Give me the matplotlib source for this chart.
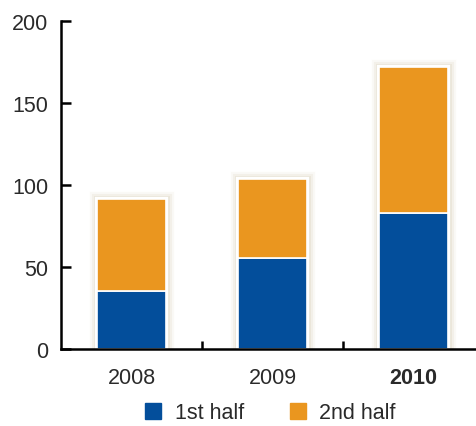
import numpy as np
import matplotlib.pyplot as plt
import matplotlib.patheffects as pe
from matplotlib.lines import Line2D

plt.rcParams['font.family'] = ['Liberation Sans', 'DejaVu Sans']

years = ['2008', '2009', '2010']
first_half = [35.5, 55.5, 83]
second_half = [56, 48, 89]

blue = '#034e9b'
orange = '#ea961f'

fig = plt.figure(figsize=[4.77, 4.27], dpi=100)
ax = fig.add_axes([61/477, 1-350/427, 1-61/477, 328/427])

x = np.arange(len(years))
totals = np.array(first_half) + np.array(second_half)
shadow = [pe.Stroke(linewidth=11, foreground='#d8d0b8', alpha=0.12),
          pe.Stroke(linewidth=8, foreground='#d8d0b8', alpha=0.2),
          pe.Stroke(linewidth=5, foreground='#d8d0b8', alpha=0.3),
          pe.Stroke(linewidth=3, foreground='white'),
          pe.Normal()]
back = ax.bar(x, totals, width=0.49, color='white', edgecolor='white', linewidth=1.5, zorder=1)
for r in back:
    r.set_path_effects(shadow)
ax.bar(x, first_half, width=0.49, color=blue, edgecolor='white', linewidth=1.2, zorder=2)
ax.bar(x, second_half, width=0.49, bottom=first_half, color=orange, edgecolor='white', linewidth=1.2, zorder=2)

ax.set_xlim(-0.5, 2.45)
ax.set_ylim(0, 200)
ax.set_yticks([0, 50, 100, 150, 200])
ax.set_xticks([0.5, 1.5])
ax.set_xticklabels([])
ax.tick_params(axis='y', direction='in', length=7, width=1.8, pad=9, labelsize=15.5, labelcolor='#2a2a2a')
ax.tick_params(axis='x', direction='in', length=6, width=1.8)
for i, yr in enumerate(years):
    ax.text(i, -11, yr, ha='center', va='top', fontsize=15.5, color='#2a2a2a',
            fontweight='bold' if yr == '2010' else 'normal')
ax.spines['top'].set_visible(False)
ax.spines['right'].set_visible(False)
ax.spines['left'].set_linewidth(1.8)
ax.spines['bottom'].set_linewidth(1.8)

handles = [Line2D([], [], marker='s', linestyle='', markersize=11, color=blue),
           Line2D([], [], marker='s', linestyle='', markersize=11, color=orange)]
fig.legend(handles, ['1st half', '2nd half'], loc='center', bbox_to_anchor=(0.562, 1-414/427),
           ncol=2, frameon=False, fontsize=15.5, handletextpad=0.4, columnspacing=1.9,
           handlelength=1.2, labelcolor='#2a2a2a', borderpad=0.2)

plt.savefig('out.png', dpi=100)
